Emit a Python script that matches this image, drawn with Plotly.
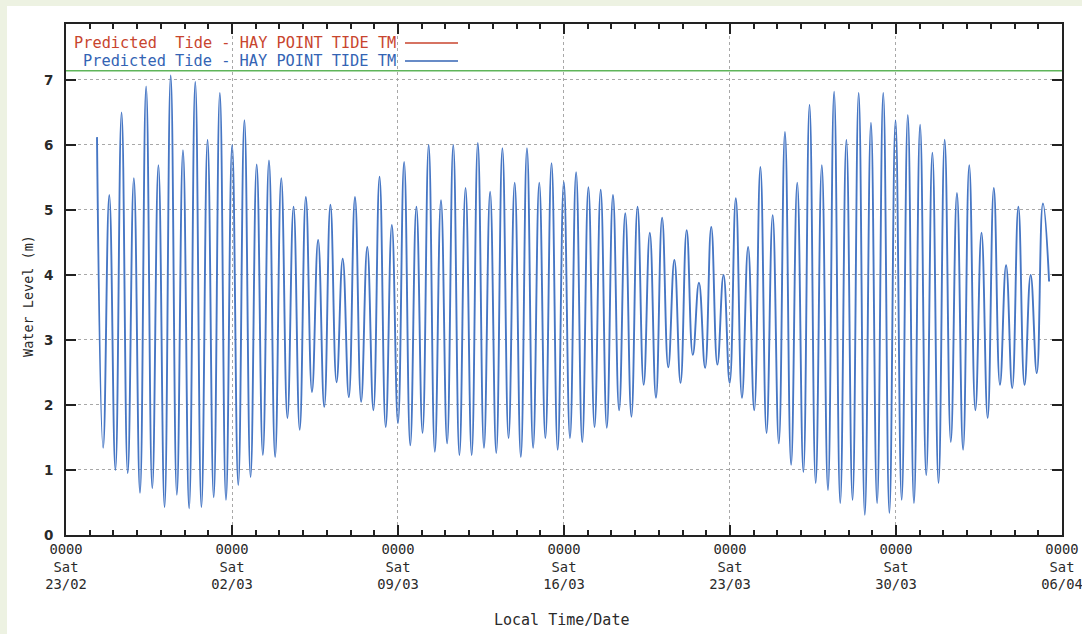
import pandas as pd
import plotly.graph_objects as go

# ---------------- data ----------------
high_water = [6.12, 5.23, 6.5, 5.49, 6.9, 5.69, 7.07, 5.92, 6.97, 6.08,
              6.8, 6.0, 6.38, 5.7, 5.76, 5.49, 5.05, 5.2, 4.54, 5.08,
              4.25, 5.2, 4.43, 5.51, 4.77, 5.74, 5.05, 6.0, 5.15, 6.0,
              5.34, 6.03, 5.28, 5.95, 5.42, 5.95, 5.42, 5.72, 5.43, 5.58,
              5.35, 5.31, 5.23, 4.95, 5.05, 4.65, 4.88, 4.23, 4.69, 3.88,
              4.74, 4.0, 5.18, 4.43, 5.66, 4.92, 6.2, 5.42, 6.62, 5.69,
              6.82, 6.08, 6.8, 6.34, 6.8, 6.38, 6.46, 6.31, 5.88, 6.08,
              5.26, 5.69, 4.65, 5.34, 4.15, 5.05, 4.0, 5.1]
low_water = [1.34, 1.0, 0.95, 0.65, 0.72, 0.43, 0.62, 0.41, 0.43, 0.58, 0.54, 0.77, 0.89,
             1.23, 1.2, 1.8, 1.62, 2.2, 1.97, 2.35, 2.12, 2.05, 1.92, 1.66, 1.72, 1.38,
             1.57, 1.28, 1.41, 1.23, 1.23, 1.34, 1.26, 1.49, 1.2, 1.34, 1.49, 1.31, 1.49, 1.43,
             1.66, 1.65, 1.92, 1.82, 2.31, 2.11, 2.58, 2.34, 2.77, 2.57, 2.62, 2.34, 2.11,
             1.92, 1.57, 1.41, 1.08, 0.97, 0.8, 0.69, 0.49, 0.54, 0.31, 0.49, 0.34, 0.54,
             0.49, 0.92, 0.8, 1.43, 1.31, 1.92, 1.8, 2.31, 2.26, 2.31, 2.49,
             3.9]
first_high_time = "2013-02-24 07:22"
half_tide_interval = "373min"
hat_level = 7.14

week_labels = ["23/02", "02/03", "09/03", "16/03", "23/03", "30/03", "06/04"]
week_ticks = ["2013-02-23", "2013-03-02", "2013-03-09", "2013-03-16",
              "2013-03-23", "2013-03-30", "2013-04-06"]
x_range = ["2013-02-23", "2013-04-06 00:01"]
y_range = [0, 7.86]
y_ticks = [0, 1, 2, 3, 4, 5, 6, 7]
legend_text = "Predicted Tide - HAY POINT TIDE TM"

# ---------------- build series ----------------
levels = []
for i, h in enumerate(high_water):
    levels.append(h)
    if i < len(low_water):
        levels.append(low_water[i])
times = pd.date_range(first_high_time, periods=len(levels), freq=half_tide_interval)

W, H = 1082, 634
L, R, T, B = 66, 1062, 24, 535


def px(x):
    return (x - L) / (R - L)


def py(y):
    return (B - y) / (B - T)


MONO = "DejaVu Sans Mono"
TXT = "#2a2a2a"

fig = go.Figure()
fig.add_trace(go.Scatter(x=times, y=levels, mode="lines",
                         line=dict(color="#4676c4", width=1.9, shape="spline", smoothing=1.3),
                         showlegend=False, hoverinfo="x+y"))

ticktext = [f"0000<br>Sat<br>{d}" for d in week_labels]

fig.update_layout(
    width=W, height=H,
    margin=dict(l=L, r=W - R, t=T, b=H - B, autoexpand=False),
    paper_bgcolor="white", plot_bgcolor="white",
    showlegend=False,
    xaxis=dict(range=x_range, tickvals=week_ticks, ticktext=ticktext,
               tickfont=dict(family=MONO, size=13.8, color=TXT),
               ticklabeloverflow="allow", automargin=False,
               ticks="inside", ticklen=10, tickcolor="#222", tickwidth=1.5,
               minor=dict(dtick=86400000, ticks="inside", ticklen=5, tickcolor="#222",
                          showgrid=False),
               showgrid=True, gridcolor="#a8a8a8", griddash="dot", gridwidth=1,
               showline=True, linecolor="#222", linewidth=2, mirror="ticks",
               zeroline=False),
    yaxis=dict(range=y_range, tickvals=y_ticks, automargin=False,
               tickfont=dict(family="DejaVu Sans", size=13.5, color=TXT, weight="bold"),
               ticks="inside", ticklen=10, tickcolor="#222", tickwidth=1.5,
               ticklabelstandoff=8,
               showgrid=True, gridcolor="#a8a8a8", griddash="dot", gridwidth=1,
               showline=True, linecolor="#222", linewidth=2, mirror="ticks",
               zeroline=False),
)

# HAT reference line
fig.add_shape(type="line", xref="paper", yref="y", x0=0, x1=1, y0=hat_level, y1=hat_level,
              line=dict(color="#5fb55a", width=1.6))

# outer light green strips
green = "#edf2e2"
fig.add_shape(type="rect", xref="paper", yref="paper", x0=px(0), x1=px(7), y0=py(H), y1=py(0),
              fillcolor=green, line=dict(width=0), layer="below")
fig.add_shape(type="rect", xref="paper", yref="paper", x0=px(0), x1=px(W), y0=py(6), y1=py(0),
              fillcolor=green, line=dict(width=0), layer="below")

# legend (gnuplot style: text then sample)
for txt, color, ypix in [(legend_text.replace("Predicted ", "Predicted\u00a0 "), "#c8452e", 43),
                         (legend_text, "#3464b4", 61)]:
    fig.add_annotation(x=px(398), y=py(ypix), xref="paper", yref="paper", text=txt,
                       showarrow=False, xanchor="right", yanchor="middle",
                       font=dict(family=MONO, size=15.3, color=color))
    fig.add_shape(type="line", xref="paper", yref="paper", x0=px(405), x1=px(458),
                  y0=py(ypix), y1=py(ypix), line=dict(color=color, width=1.5))

# axis titles
fig.add_annotation(x=px(561), y=py(620), xref="paper", yref="paper", text="Local Time/Date",
                   showarrow=False, xanchor="center", yanchor="middle",
                   font=dict(family=MONO, size=15, color=TXT))
fig.add_annotation(x=px(28), y=py(296), xref="paper", yref="paper", text="Water Level (m)",
                   showarrow=False, textangle=-90, xanchor="center", yanchor="middle",
                   font=dict(family=MONO, size=13.5, color=TXT))

fig.write_html("out.html", config={"displayModeBar": False},
               post_script="document.body.style.margin='0';document.body.style.overflow='hidden';")
